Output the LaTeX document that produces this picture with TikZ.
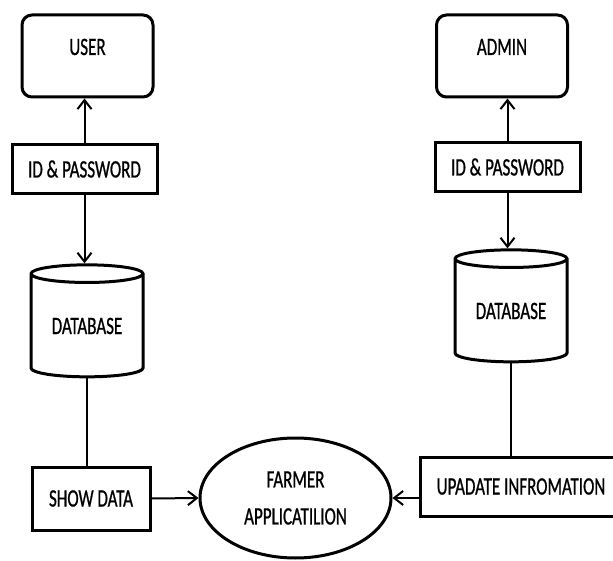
\documentclass[tikz,border=0pt]{standalone}
\usepackage{fontspec}
\newfontfamily\dfdfont[FakeStretch=0.68,FakeBold=0.8]{Carlito}
\usetikzlibrary{shapes.geometric,arrows.meta}
\begin{document}
\begin{tikzpicture}[x=1pt,y=-1pt,
    lbl/.style={font=\dfdfont\fontsize{25}{37}\selectfont,inner sep=0pt},
    box/.style={lbl,draw,line width=3pt,rectangle},
    actor/.style={box,rounded corners=10pt,minimum width=131pt,minimum height=82pt,
      text height=16pt,text depth=18pt},
    cred/.style={box,minimum width=145pt,minimum height=49pt},
    store/.style={lbl,draw,line width=3pt,cylinder,shape border rotate=90,aspect=0.25,
      minimum width=112pt,minimum height=112pt},
    flow/.style={line width=2pt,-{Straight Barb[length=9pt,width=14pt]}},
    link/.style={line width=2pt}]
  \clip (0,0) rectangle (613,561);
  \path
    (87.5,56) node[actor] (user){USER}
    (84.5,169) node[cred] (idl){ID \& PASSWORD}
    (87,326) node[store] (dbl){DATABASE}
    (91,498.5) node[box,minimum width=118pt,minimum height=63pt] (show){SHOW DATA}
    (502,56) node[actor] (admin){ADMIN}
    (507.5,167) node[cred] (idr){ID \& PASSWORD}
    (511,311) node[store] (dbr){DATABASE}
    (521,486.5) node[box,minimum width=202pt,minimum height=59pt] (upd){UPADATE INFROMATION}
    (295.5,498) node[lbl,draw,line width=3pt,ellipse,minimum width=191pt,minimum height=120pt,
      align=center] (app){FARMER\\APPLICATILION};
  \begin{scope}
    \draw[flow] (idl.north) -- (idl.north |- user.south);
    \draw[flow] (idl.south) -- (idl.south |- dbl.north);
    \draw[link] (dbl.south) -- (dbl.south |- show.north);
    \draw[flow] (show.east) -- (app.west);
    \draw[flow] (idr.north) -- (idr.north |- admin.south);
    \draw[flow] (idr.south) -- (idr.south |- dbr.north);
    \draw[link] (dbr.south) -- (dbr.south |- upd.north);
    \draw[flow] (upd.west |- app.east) -- (app.east);
  \end{scope}
\end{tikzpicture}
\end{document}
